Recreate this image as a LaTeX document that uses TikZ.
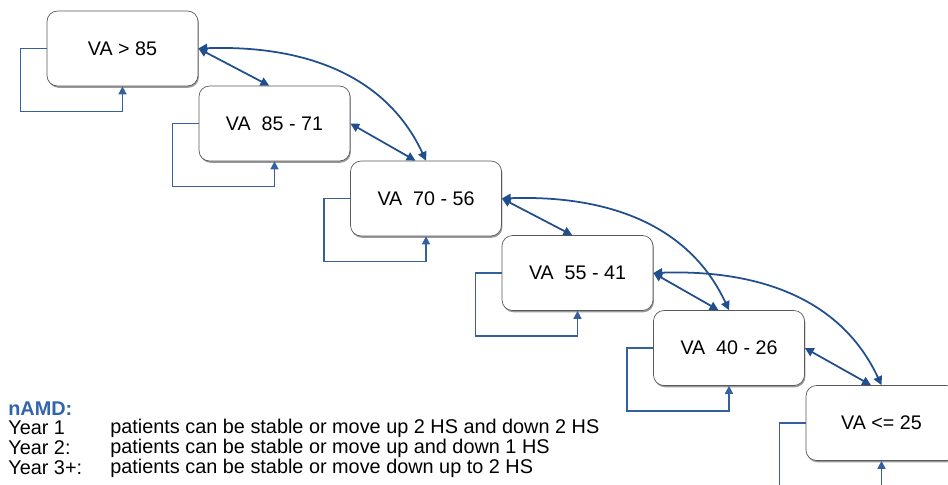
\documentclass[tikz,border=0pt]{standalone}
\usepackage{fontspec}
\setmainfont{Liberation Sans}
\usetikzlibrary{arrows.meta, calc, shadows}
\definecolor{hsblue}{RGB}{33,78,140}
\definecolor{loopblue}{RGB}{52,96,160}
\definecolor{namdblue}{RGB}{49,100,172}

\begin{document}
\begin{tikzpicture}[
    vabox/.style={draw=black!65, rounded corners=6pt, fill=white,
                  minimum width=3.02cm, minimum height=1.5cm,
                  font=\fontsize{11.2}{13}\selectfont,
                  drop shadow={shadow xshift=0.5pt, shadow yshift=-1pt, opacity=0.8}},
    stay/.style={-{Triangle[length=4.5pt,width=4.5pt]}, loopblue, line width=0.9pt},
    move/.style={{Triangle[length=5pt,width=5pt]}-{Triangle[length=5pt,width=5pt]},
                 hsblue, line width=1pt},
    legend/.style={anchor=west, inner sep=0pt, font=\fontsize{11.3}{13}\selectfont}
  ]
    \clip (0,0) rectangle (18.96,-9.7);

    \node[vabox] (b1) at (2.45,-0.97) {VA > 85};
    \node[vabox] (b2) at (5.49,-2.47) {VA\ \ 85 - 71};
    \node[vabox] (b3) at (8.52,-3.97) {VA\ \ 70 - 56};
    \node[vabox] (b4) at (11.55,-5.46) {VA\ \ 55 - 41};
    \node[vabox] (b5) at (14.58,-6.96) {VA\ \ 40 - 26};
    \node[vabox] (b6) at (17.63,-8.46) {VA <= 25};

    % patients staying in the same band
    \foreach \b in {b1,b2,b3,b4,b5,b6} {
      \draw[stay] (\b.west) -- ++(-0.52,0) |- ($(\b.south)+(0,-0.5)$) -- (\b.south);
    }

    % one band up / down
    \draw[move] (b1.east) -- ([xshift=-3pt]b2.north);
    \draw[move] (b2.east) -- ([xshift=-6pt]b3.north);
    \draw[move] (b3.east) -- ([xshift=-3pt]b4.north);
    \draw[move] (b4.east) -- ([xshift=-6pt]b5.north);
    \draw[move] (b5.east) -- ([xshift=-6pt]b6.north);

    % two bands up / down
    \draw[move] (b1.east) to[out=2, in=115] (b3.north);
    \draw[move] (b3.east) to[out=2, in=115] (b5.north);
    \draw[move] (b4.east) to[out=2, in=115] (b6.north);

    \node[legend, text=namdblue, font=\fontsize{11.3}{13}\selectfont\bfseries] (namd) at (0.16,-8.18) {nAMD:};
    \node[legend] (y1) at (0.16,-8.56) {Year 1};
    \node[legend] (y2) at (0.16,-8.96) {Year 2:};
    \node[legend] (y3) at (0.16,-9.36) {Year 3+:};
    \node[legend] (t1) at (2.2,-8.56) {patients can be stable or move up 2 HS and down 2 HS};
    \node[legend] (t2) at (2.2,-8.96) {patients can be stable or move up and down 1 HS};
    \node[legend] (t3) at (2.2,-9.36) {patients can be stable or move down up to 2 HS};
\end{tikzpicture}
\end{document}
